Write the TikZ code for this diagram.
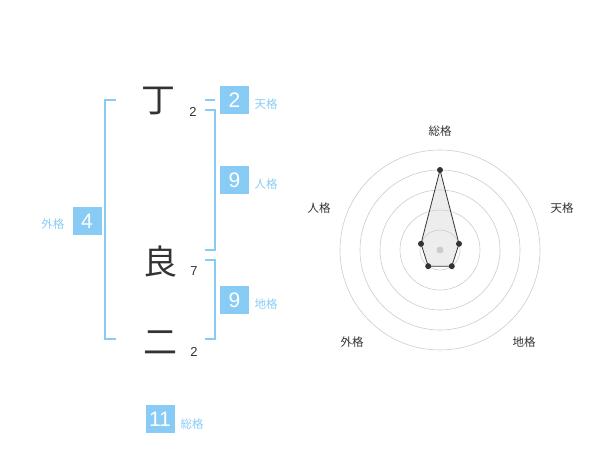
\documentclass[tikz,border=0pt]{standalone}
\usepackage{fontspec}
\setmainfont{Liberation Sans}
\newfontfamily\cjk{Noto Sans CJK JP}
\definecolor{kblue}{HTML}{88CCF5}
\definecolor{kdark}{HTML}{333333}
\definecolor{kgrid}{HTML}{CCCCCC}
\begin{document}
\begin{tikzpicture}[x=1pt,y=-1pt,
  bigchar/.style={text=kdark,font=\cjk\fontsize{34}{35}\selectfont,inner sep=0pt},
  stroke/.style={text=kdark,font=\fontsize{13}{14}\selectfont,inner sep=0pt},
  numbox/.style={fill=kblue,text=white,minimum width=29pt,minimum height=28pt,inner sep=0pt,font=\fontsize{21}{22}\selectfont},
  kaku/.style={text=kblue,font=\cjk\fontsize{11.5}{12}\selectfont,inner sep=0pt},
  bracket/.style={draw=kblue,line width=1.3pt},
  axislab/.style={text=kdark,font=\cjk\fontsize{11.5}{12}\selectfont,inner sep=0pt},
  ring/.style={draw=kgrid,line width=0.6pt},
  dot/.style={circle,fill=kdark,inner sep=0pt,minimum size=6pt}]
\useasboundingbox (0,0) rectangle (600,470);
% characters
\node[bigchar] (c1) at (158,101) {丁};
\node[stroke] (s1) at (193,112) {2};
\node[bigchar] (c2) at (160,262) {良};
\node[stroke] (s2) at (194,271) {7};
\node[bigchar] (c3) at (160,343) {二};
\node[stroke] (s3) at (194,352) {2};
% outer bracket
\coordinate (ga) at (116,100);
\coordinate (gb) at (116,339);
\draw[bracket] (ga) -- (105,100) -- (105,339) -- (gb);
\node[numbox] (n4) at (87,221) {4};
\node[kaku] (l4) at (53,224) {外格};
% tenkaku
\coordinate (ta) at (205,100);
\coordinate (tb) at (215,100);
\draw[bracket] (ta) -- (tb);
\node[numbox] (n2) at (234.5,100) {2};
\node[kaku] (l2) at (266,104) {天格};
% jinkaku
\coordinate (ja) at (205,110);
\coordinate (jb) at (205,250);
\draw[bracket] (ja) -- (215,110) -- (215,250) -- (jb);
\node[numbox] (n9a) at (234.5,180) {9};
\node[kaku] (l9a) at (266,184) {人格};
% chikaku
\coordinate (ka) at (205,260);
\coordinate (kb) at (205,339);
\draw[bracket] (ka) -- (215,260) -- (215,339) -- (kb);
\node[numbox] (n9b) at (234.5,300) {9};
\node[kaku] (l9b) at (266,304) {地格};
% sokaku
\node[numbox] (n11) at (160,419) {11};
\node[kaku] (l11) at (192,424) {総格};
% radar
\coordinate (o) at (440,250);
\foreach \r in {20,40,60,80,100} \draw[ring] (o) circle[radius=\r];
\node[circle,fill=kgrid,inner sep=0pt,minimum size=7pt] (ctr) at (o) {};
\coordinate (p1) at (440,170);
\coordinate (p2) at (459,243.8);
\coordinate (p3) at (451.8,266.2);
\coordinate (p4) at (428.2,266.2);
\coordinate (p5) at (421,243.8);
\draw[draw=kdark,fill=black!20,fill opacity=0.35,line width=0.8pt] (p1) -- (p2) -- (p3) -- (p4) -- (p5) -- cycle;
\foreach \p in {p1,p2,p3,p4,p5} \node[dot] at (\p) {};
\node[axislab] (a1) at (440,131) {総格};
\node[axislab] (a2) at (562,208) {天格};
\node[axislab] (a3) at (524,342) {地格};
\node[axislab] (a4) at (352,342) {外格};
\node[axislab] (a5) at (319,208) {人格};
\end{tikzpicture}
\end{document}
